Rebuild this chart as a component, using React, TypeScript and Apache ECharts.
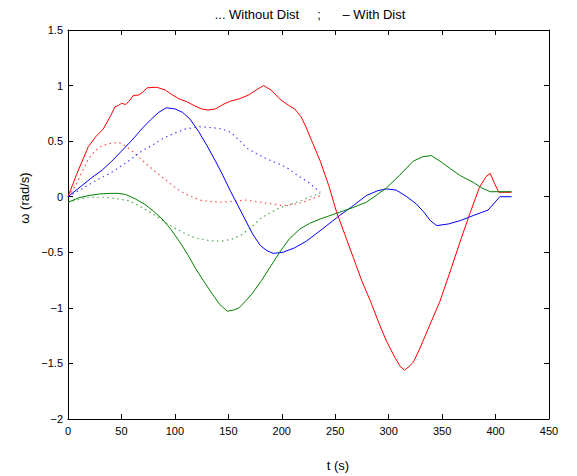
import React, { useEffect, useRef } from "react";
import * as echarts from "echarts";

// Angular velocity responses, with disturbance (solid) and without (dotted)
const tRedWith = [0, 8, 19, 26, 33, 40, 44, 47, 50, 54, 58, 61, 66, 70, 74, 83, 91, 97, 104, 111, 118, 125, 131, 138, 145, 152, 160, 169, 176, 183, 190, 198, 205, 212, 218, 223, 229, 236, 244, 251, 259, 267, 275, 283, 291, 298, 306, 311, 315, 320, 323, 329, 336, 348, 358, 367, 376, 385, 391, 395, 399, 403, 415];
const redWith = [0, 0.2, 0.45, 0.54, 0.61, 0.73, 0.81, 0.82, 0.84, 0.83, 0.87, 0.91, 0.915, 0.94, 0.98, 0.985, 0.96, 0.92, 0.88, 0.855, 0.82, 0.79, 0.78, 0.79, 0.83, 0.86, 0.88, 0.915, 0.96, 1.0, 0.96, 0.88, 0.83, 0.79, 0.72, 0.62, 0.48, 0.32, 0.1, -0.13, -0.34, -0.55, -0.76, -0.94, -1.14, -1.3, -1.45, -1.53, -1.56, -1.52, -1.49, -1.37, -1.21, -0.94, -0.66, -0.4, -0.15, 0.085, 0.18, 0.21, 0.12, 0.04, 0.04];

const tBlueWith = [0, 13, 22, 32, 41, 50, 60, 69, 77, 85, 92, 100, 107, 114, 122, 130, 138, 145, 152, 159, 166, 173, 180, 186, 192, 201, 212, 223, 238, 254, 267, 279, 290, 298, 307, 317, 326, 333, 339, 345, 356, 367, 379, 393, 404, 415];
const blueWith = [0, 0.1, 0.17, 0.24, 0.32, 0.41, 0.51, 0.61, 0.69, 0.76, 0.8, 0.79, 0.76, 0.7, 0.59, 0.46, 0.32, 0.19, 0.05, -0.08, -0.21, -0.34, -0.44, -0.485, -0.51, -0.5, -0.46, -0.4, -0.29, -0.17, -0.08, 0.01, 0.055, 0.07, 0.06, 0.0, -0.066, -0.14, -0.215, -0.26, -0.245, -0.215, -0.17, -0.12, 0.0, 0.0];

const tGreenWith = [0, 10, 19, 30, 40, 47, 54, 63, 72, 80, 88, 96, 104, 112, 119, 127, 135, 142, 149, 155, 160, 166, 172, 181, 190, 198, 207, 217, 226, 236, 245, 254, 266, 279, 288, 298, 310, 323, 332, 340, 348, 358, 367, 379, 387, 395, 415];
const greenWith = [-0.05, -0.01, 0.01, 0.025, 0.03, 0.03, 0.02, -0.02, -0.07, -0.13, -0.2, -0.29, -0.4, -0.52, -0.64, -0.76, -0.875, -0.97, -1.03, -1.02, -1.0, -0.94, -0.875, -0.755, -0.62, -0.5, -0.38, -0.29, -0.24, -0.2, -0.17, -0.14, -0.1, -0.05, 0.01, 0.08, 0.19, 0.32, 0.36, 0.37, 0.32, 0.25, 0.19, 0.13, 0.08, 0.045, 0.045];

const tBlueWithout = [0, 13, 27, 41, 55, 69, 80, 88, 99, 110, 123, 136, 144, 152, 160, 167, 176, 186, 196, 205, 215, 225, 236];
const blueWithout = [0, 0.07, 0.15, 0.22, 0.31, 0.41, 0.47, 0.52, 0.57, 0.61, 0.63, 0.62, 0.61, 0.58, 0.51, 0.44, 0.39, 0.34, 0.3, 0.26, 0.19, 0.13, 0.04];

const tRedWithout = [0, 7, 13, 19, 25, 32, 40, 47, 53, 60, 68, 75, 85, 94, 102, 110, 118, 125, 135, 144, 155, 166, 180, 190, 201, 210, 220, 228, 236];
const redWithout = [0, 0.1, 0.22, 0.34, 0.41, 0.46, 0.48, 0.49, 0.46, 0.41, 0.34, 0.28, 0.2, 0.13, 0.07, 0.025, -0.01, -0.035, -0.045, -0.05, -0.04, -0.03, -0.05, -0.065, -0.08, -0.07, -0.05, -0.02, 0.01];

const tGreenWithout = [0, 10, 19, 35, 47, 57, 66, 75, 85, 94, 107, 119, 132, 144, 154, 163, 172, 181, 190, 198, 208, 217, 227, 236];
const greenWithout = [-0.05, -0.025, -0.005, -0.005, -0.02, -0.035, -0.08, -0.13, -0.19, -0.25, -0.32, -0.37, -0.395, -0.4, -0.38, -0.34, -0.27, -0.19, -0.14, -0.1, -0.07, -0.04, 0.0, 0.03];

const titleText = "... Without Dist\u00a0\u00a0\u00a0\u00a0\u00a0;\u00a0\u00a0\u00a0\u00a0\u00a0\u00a0– With Dist";
const xLabel = "t (s)";
const yLabel = "ω (rad/s)";

const FONT = "'Liberation Sans', Arial, Helvetica, sans-serif";

const pairs = (t: number[], v: number[]) => t.map((x, i) => [x, v[i]]);
const minus = (v: number) => String(v).replace("-", "\u2212");

export default function App() {
  const ref = useRef<HTMLDivElement>(null);

  useEffect(() => {
    if (!ref.current) return;
    const chart = echarts.init(ref.current, undefined, { renderer: "svg" });

    const solid = (name: string, color: string, t: number[], v: number[]) => ({
      name,
      type: "line",
      data: pairs(t, v),
      showSymbol: false,
      symbol: "none",
      lineStyle: { color, width: 1 },
      z: 3,
    });
    const dotted = (name: string, color: string, t: number[], v: number[]) => ({
      name,
      type: "line",
      data: pairs(t, v),
      showSymbol: false,
      symbol: "none",
      lineStyle: { color, width: 1.2, type: [1.5, 3.5], opacity: 0.7 },
      z: 2,
    });

    const baseX = {
      type: "value",
      min: 0,
      max: 450,
      interval: 50,
      splitLine: { show: false },
      axisLine: { show: true, onZero: false, lineStyle: { color: "#000", width: 1 } },
      axisTick: { show: true, inside: true, length: 5, lineStyle: { color: "#000" } },
    };
    const baseY = {
      type: "value",
      min: -2,
      max: 1.5,
      interval: 0.5,
      splitLine: { show: false },
      axisLine: { show: true, onZero: false, lineStyle: { color: "#000", width: 1 } },
      axisTick: { show: true, inside: true, length: 5, lineStyle: { color: "#000" } },
    };

    chart.setOption({
      animation: false,
      backgroundColor: "#fff",
      grid: { left: 68, right: 28, top: 30, bottom: 57, containLabel: false },
      xAxis: [
        {
          ...baseX,
          position: "bottom",
          axisLabel: { color: "#000", fontSize: 11, fontFamily: FONT, margin: 6, formatter: (v: number) => minus(v) },
        },
        { ...baseX, position: "top", axisLabel: { show: false } },
      ],
      yAxis: [
        {
          ...baseY,
          position: "left",
          axisLabel: { color: "#000", fontSize: 11, fontFamily: FONT, margin: 5, formatter: (v: number) => minus(v) },
        },
        { ...baseY, position: "right", axisLabel: { show: false } },
      ],
      series: [
        dotted("Without Dist red", "#ff0000", tRedWithout, redWithout),
        dotted("Without Dist blue", "#0000ff", tBlueWithout, blueWithout),
        dotted("Without Dist green", "#008000", tGreenWithout, greenWithout),
        solid("With Dist red", "#ff0000", tRedWith, redWith),
        solid("With Dist blue", "#0000ff", tBlueWith, blueWith),
        solid("With Dist green", "#008000", tGreenWith, greenWith),
      ],
      graphic: [
        {
          type: "text",
          x: 310,
          y: 14,
          style: { text: titleText, fontSize: 13, fontFamily: FONT, fill: "#000", align: "center", verticalAlign: "middle" },
        },
        {
          type: "text",
          x: 338,
          y: 465,
          style: { text: xLabel, fontSize: 13, fontFamily: FONT, fill: "#000", align: "center", verticalAlign: "middle" },
        },
        {
          type: "text",
          x: 24,
          y: 198,
          rotation: Math.PI / 2,
          style: { text: yLabel, fontSize: 13, fontFamily: FONT, fill: "#000", align: "center", verticalAlign: "middle" },
        },
      ],
    });

    return () => chart.dispose();
  }, []);

  return (
    <div
      ref={ref}
      style={{ position: "fixed", left: 0, top: 0, width: 577, height: 476, background: "#fff" }}
    />
  );
}
